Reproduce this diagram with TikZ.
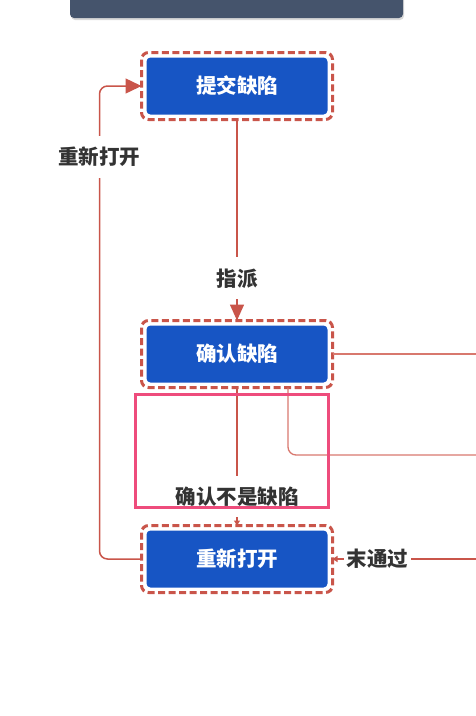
\documentclass[tikz,border=0pt]{standalone}
\usepackage{fontspec}
\newfontfamily\cjk{Noto Sans CJK SC}
\usetikzlibrary{positioning,arrows.meta}
\definecolor{boxblue}{HTML}{1755C4}
\definecolor{flowred}{HTML}{C9554A}
\definecolor{thinred}{HTML}{D8786E}
\definecolor{headgray}{HTML}{45546C}
\definecolor{markpink}{HTML}{EE4C7C}
\definecolor{tagtext}{HTML}{333333}

\begin{document}
\begin{tikzpicture}[x=1pt,y=-1pt,
      every node/.style={font=\cjk\bfseries\fontsize{20.5}{24}\selectfont},
      stage/.style={fill=boxblue,text=white,rounded corners=4pt,
        minimum width=181pt,minimum height=57pt,outer sep=5pt},
      frame/.style={draw=flowred,line width=3pt,dash pattern=on 7pt off 3.5pt,rounded corners=7pt},
      flow/.style={draw=flowred,line width=1.5pt},
      side/.style={draw=thinred,line width=1.3pt},
      tag/.style={fill=white,text=tagtext,inner xsep=3pt,inner ysep=11pt},
      node distance=201pt]
      \useasboundingbox (0,0) rectangle (476,716);
      \fill[black!15,rounded corners=4pt] (71,-10) rectangle (404,20);
      \fill[headgray,rounded corners=4pt] (70,-10) rectangle (403,18);
      \node[stage] (submit) at (237,86) {提交缺陷};
      \node[stage,below=of submit] (confirm) {确认缺陷};
      \node[stage,below=138pt of confirm] (reopen) {重新打开};
      \foreach \n in {submit,confirm,reopen}
        \draw[frame] (\n.north west) rectangle (\n.south east);
      \coordinate (edge) at (476,0);
      \coordinate (outA) at (confirm.east -| edge);
      \coordinate (outB) at (476,455);
      \coordinate (inC) at (reopen.east -| edge);
      \draw[flow,-{Triangle[length=16pt,width=14pt]}] (submit.south)
        -- node[tag,pos=0.79]{指派} (confirm.north);
      \draw[flow,-{Triangle[length=5pt,width=6pt]}] (confirm.south)
        -- node[tag,pos=0.79]{确认不是缺陷} (reopen.north);
      \draw[flow,rounded corners=8pt,-{Triangle[length=16pt,width=15pt]}] (reopen.west)
        -- ++(-42,0) |- node[tag,pos=0.425]{重新打开} (submit.west);
      \draw[side] (confirm.east) -- (outA);
      \draw[side,rounded corners=8pt] ([xshift=51pt]confirm.south) |- (outB);
      \draw[flow,-{Triangle[length=5pt,width=6pt]}] (inC)
        -- node[tag,pos=0.685]{末通过} (reopen.east);
      \draw[markpink,line width=3pt] (135,394) rectangle (328,507);
\end{tikzpicture}
\end{document}
